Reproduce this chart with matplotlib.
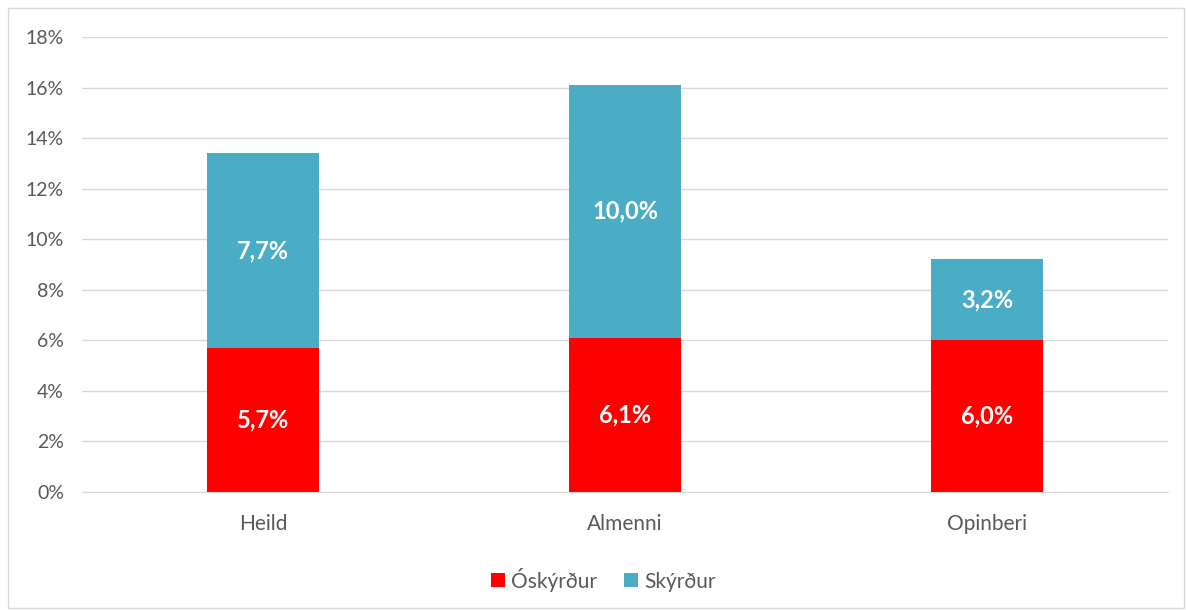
import numpy as np
import matplotlib.pyplot as plt
from matplotlib.patches import Rectangle

plt.rcParams['font.family'] = ['Lato', 'DejaVu Sans']

categories = ['Heild', 'Almenni', 'Opinberi']
oskyrdur = [5.7, 6.1, 6.0]
skyrdur = [7.7, 10.0, 3.2]
series_names = ['Óskýrður', 'Skýrður']
colors = ['#FF0000', '#4BACC6']
text_color = '#595959'

fig = plt.figure(figsize=(11.86, 6.10), dpi=100)
fig.patches.append(Rectangle((8 / 1186, 2 / 610), 1176 / 1186, 600 / 610,
                             transform=fig.transFigure, fill=False,
                             edgecolor='#D9D9D9', linewidth=1))
ax = fig.add_axes([82 / 1186, 118 / 610, 1086 / 1186, 455 / 610])

x = np.arange(len(categories))
width = 0.31
ax.bar(x, oskyrdur, width, color=colors[0], label=series_names[0], zorder=3)
ax.bar(x, skyrdur, width, bottom=oskyrdur, color=colors[1], label=series_names[1], zorder=3)

# etiketter inni i sulunum
for i in range(len(categories)):
    ax.text(x[i], oskyrdur[i] / 2, f'{oskyrdur[i]:.1f}%'.replace('.', ','),
            ha='center', va='center', color='white', fontsize=17, fontweight='bold', zorder=4)
    ax.text(x[i], oskyrdur[i] + skyrdur[i] / 2, f'{skyrdur[i]:.1f}%'.replace('.', ','),
            ha='center', va='center', color='white', fontsize=17, fontweight='bold', zorder=4)

ax.set_xlim(-0.5, 2.5)
ax.set_ylim(0, 18)
ax.set_yticks(np.arange(0, 19, 2))
ax.set_yticklabels([f'{v}%' for v in range(0, 19, 2)])
ax.set_xticks(x)
ax.set_xticklabels(categories)
ax.grid(axis='y', color='#D9D9D9', linewidth=1, zorder=0)
for s in ['top', 'right', 'left']:
    ax.spines[s].set_visible(False)
ax.spines['bottom'].set_color('#D9D9D9')
ax.tick_params(axis='both', length=0, colors=text_color)
ax.tick_params(axis='y', labelsize=14, pad=13)
ax.tick_params(axis='x', labelsize=15, pad=16)

ax.legend(loc='upper center', bbox_to_anchor=(0.48, -0.125), ncol=2, frameon=False,
          fontsize=15, labelcolor=text_color, handlelength=0.65, handleheight=0.65,
          handletextpad=0.3, columnspacing=1.3)

fig.savefig('out.png', dpi=100)
